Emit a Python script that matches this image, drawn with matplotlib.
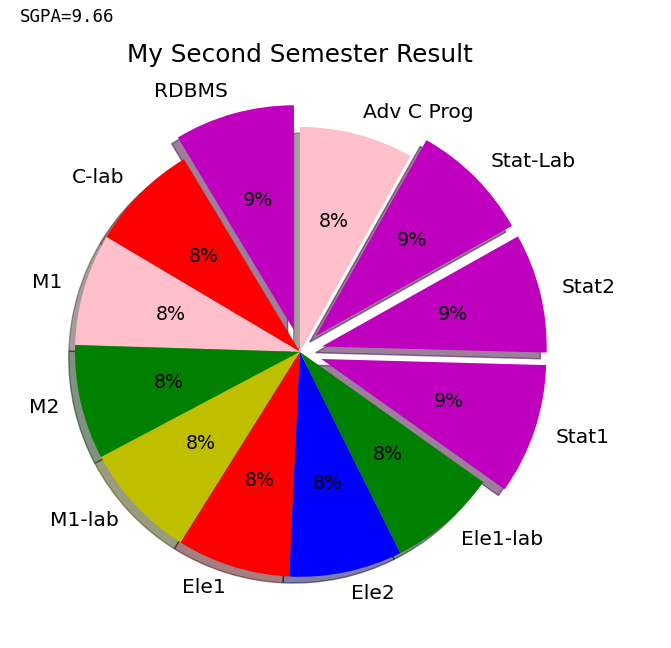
import matplotlib
matplotlib.use('Agg')
import matplotlib.pyplot as plt

subjects=['RDBMS','C-lab','M1','M2','M1-lab','Ele1','Ele2','Ele1-lab','Stat1','Stat2','Stat-Lab','Adv C Prog']
# slice sizes (degrees of the circle)
shares=[31,28.2,28.9,29.6,30,29.3,29.2,28,33.8,30.8,31.2,29.4]
colours=['m','r','pink','g','y','r','b','g','m','m','m','pink']
explode=[0.1,0,0,0,0,0,0,0,0.1,0.1,0.1,0]
sgpa=9.66

fig=plt.figure(figsize=(6.71,6.48),dpi=100)
# axes placed so the pie centre sits where it does in the picture
ax=fig.add_axes([0.028,0.023,0.838,0.868])
wedges,texts,autotexts=ax.pie(shares,labels=subjects,colors=colours,explode=explode,
                              autopct='%1.0f%%',shadow=True,startangle=90)
for t in texts:
    t.set_fontsize(14.6)
for t in autotexts:
    t.set_fontsize(13.7)
ax.set_xlim(-1.25,1.25)
ax.set_ylim(-1.25,1.25)
ax.set_aspect('equal')
ax.set_title('My Second Semester Result',fontsize=17.8)
fig.text(20/671,1-17/648,'SGPA='+str(sgpa),family='DejaVu Sans Mono',
         fontsize=12.6,va='center',ha='left')
plt.savefig('out.png')
